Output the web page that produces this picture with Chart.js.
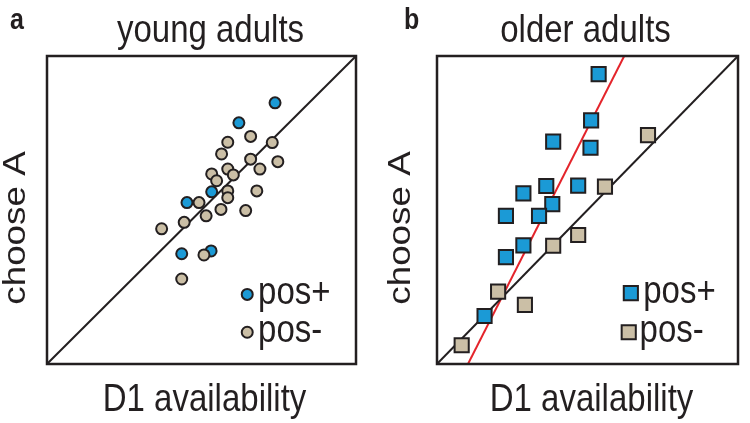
<!DOCTYPE html>
<html>
<head>
<meta charset="utf-8">
<script src="https://cdn.jsdelivr.net/npm/chart.js@4/dist/chart.umd.min.js"></script>
<style>
    body { margin: 0; background: #ffffff; }
    #wrap { position: relative; width: 750px; height: 423px; overflow: hidden; }
    canvas { position: absolute; top: 0; }
</style>
</head>
<body>
<div id="wrap">
    <canvas id="young" width="375" height="423" style="left:0"></canvas>
    <canvas id="older" width="375" height="423" style="left:375px"></canvas>
</div>
<script>
// panel a: young adults
const youngPosX = [73.8, 62.1, 53.3, 45.3, 43.6, 53.1];
const youngPosY = [84.8, 78.3, 55.9, 52.4, 35.8, 36.7];
const youngNegX = [65.9, 58.5, 72.9, 56.5, 65.9, 74.7, 58.5, 68.9, 53.3, 60.3, 54.9,
                   58.5, 67.9, 58.5, 49.2, 56.3, 64.3, 51.5, 44.4, 37.1, 50.8, 43.6];
const youngNegY = [73.9, 72.0, 71.9, 68.2, 66.5, 65.7, 63.3, 63.3, 61.7, 61.4, 59.5,
                   56.2, 56.2, 54.0, 52.4, 50.2, 49.8, 48.1, 46.0, 43.9, 35.4, 27.6];

// panel b: older adults
const olderPosX = [53.7, 51.2, 38.6, 51.0, 36.3, 46.9, 28.7, 38.3, 22.9, 33.9, 28.7, 22.9, 15.8];
const olderPosY = [94.1, 79.1, 72.2, 70.2, 57.8, 57.9, 55.4, 51.9, 48.1, 48.1, 38.5, 34.7, 15.6];
const olderNegX = [70.1, 55.8, 46.9, 38.6, 20.3, 29.2, 8.2];
const olderNegY = [74.3, 57.6, 41.9, 38.4, 23.5, 19.2, 6.1];

// reference lines
const identityX = [0, 100];
const identityY = [0, 100];
const olderFitX = [10.3, 62.2];
const olderFitY = [0, 100];

const legendLabels = ['pos+', 'pos-'];
const panelTags = ['a', 'b'];
const titles = ['young adults', 'older adults'];
const xTitle = 'D1 availability';
const yTitle = 'choose A';

const FONT = '"Liberation Sans", Arial, Helvetica, sans-serif';
const INK = '#231f20';
const BLUE = '#1b9ad6';
const TAN = '#cbbfa6';
const RED = '#e4242b';
const STRETCH = 1.15;   // the lettering in the figure is a bit taller than wide

function toPoints(xs, ys) {
    return xs.map((x, i) => ({ x: x, y: ys[i] }));
}

// text drawn with a small vertical stretch
function drawText(ctx, text, x, y, font, align, rotated) {
    ctx.save();
    ctx.translate(x, y);
    ctx.scale(1, STRETCH);
    if (rotated) ctx.rotate(-Math.PI / 2);
    ctx.font = font;
    ctx.textAlign = align;
    ctx.textBaseline = 'alphabetic';
    ctx.fillStyle = INK;
    ctx.fillText(text, 0, 0);
    ctx.restore();
}

// frame, titles, axis names, panel letter
const panelText = {
    id: 'panelText',
    afterDraw(chart, args, opts) {
        const a = chart.chartArea;
        const ctx = chart.ctx;
        const cx = (a.left + a.right) / 2;
        const cy = (a.top + a.bottom) / 2;
        ctx.save();
        ctx.strokeStyle = INK;
        ctx.lineWidth = 2.5;
        ctx.strokeRect(a.left, a.top, a.right - a.left, a.bottom - a.top);
        ctx.restore();
        drawText(ctx, opts.title, cx + opts.titleDx, a.top - 14, '33px ' + FONT, 'center');
        drawText(ctx, xTitle, cx + opts.xDx, a.bottom + 47, '33px ' + FONT, 'center');
        drawText(ctx, yTitle, a.left - opts.yGap, cy + 18, '32px ' + FONT, 'center', true);
        drawText(ctx, opts.tag, opts.tagX, 29, 'bold 25px ' + FONT, 'left');
    }
};

// legend inside the plot, lower right
const innerLegend = {
    id: 'innerLegend',
    afterDraw(chart, args, opts) {
        const a = chart.chartArea;
        const ctx = chart.ctx;
        const w = a.right - a.left;
        const h = a.bottom - a.top;
        const sets = chart.data.datasets.filter(d => d.legend)
            .sort((p, q) => legendLabels.indexOf(p.label) - legendLabels.indexOf(q.label));
        sets.forEach((d, i) => {
            const mx = a.left + w * opts.markerX[i];
            const my = a.top + h * opts.rows[i];
            ctx.save();
            ctx.fillStyle = d.backgroundColor;
            ctx.strokeStyle = INK;
            ctx.lineWidth = 2;
            ctx.beginPath();
            if (d.pointStyle === 'rect') {
                const s = Math.SQRT1_2 * d.pointRadius;
                ctx.rect(mx - s, my - s, 2 * s, 2 * s);
            } else {
                ctx.arc(mx, my, d.pointRadius, 0, Math.PI * 2);
            }
            ctx.fill();
            ctx.stroke();
            ctx.restore();
            drawText(ctx, d.label, a.left + w * opts.textX[i], my + 10, '33px ' + FONT, 'left');
        });
    }
};

function scatterSet(label, pts, color, style, radius, order) {
    return {
        label: label,
        legend: true,
        data: pts,
        backgroundColor: color,
        borderColor: INK,
        borderWidth: 2,
        pointStyle: style,
        pointRadius: radius,
        order: order
    };
}

function lineSet(xs, ys, color) {
    return {
        label: '',
        data: toPoints(xs, ys),
        showLine: true,
        borderColor: color,
        borderWidth: 2,
        pointRadius: 0,
        order: 5
    };
}

function makePanel(id, datasets, padding, textOpts, legendOpts) {
    return new Chart(document.getElementById(id), {
        type: 'scatter',
        data: { datasets: datasets },
        plugins: [panelText, innerLegend],
        options: {
            responsive: false,
            animation: false,
            events: [],
            layout: { padding: padding },
            plugins: {
                legend: { display: false },
                tooltip: { enabled: false },
                panelText: textOpts,
                innerLegend: legendOpts
            },
            scales: {
                x: { display: false, min: 0, max: 100 },
                y: { display: false, min: 0, max: 100 }
            }
        }
    });
}

makePanel('young', [
    scatterSet(legendLabels[1], toPoints(youngNegX, youngNegY), TAN, 'circle', 5.5, 0),
    scatterSet(legendLabels[0], toPoints(youngPosX, youngPosY), BLUE, 'circle', 5.5, 1),
    lineSet(identityX, identityY, INK)
], { left: 47, top: 56, right: 19, bottom: 59 },
   { title: titles[0], titleDx: 9, xDx: 3, yGap: 22, tag: panelTags[0], tagX: 10 },
   { markerX: [0.648, 0.648], textX: [0.683, 0.683], rows: [0.774, 0.897] });

makePanel('older', [
    scatterSet(legendLabels[0], toPoints(olderPosX, olderPosY), BLUE, 'rect', 10, 0),
    scatterSet(legendLabels[1], toPoints(olderNegX, olderNegY), TAN, 'rect', 10, 1),
    lineSet(identityX, identityY, INK),
    lineSet(olderFitX, olderFitY, RED)
], { left: 62, top: 56, right: 4, bottom: 59 },
   { title: titles[1], titleDx: -2, xDx: 4, yGap: 27, tag: panelTags[1], tagX: 29 },
   { markerX: [0.644, 0.637], textX: [0.685, 0.673], rows: [0.770, 0.897] });
</script>
</body>
</html>
